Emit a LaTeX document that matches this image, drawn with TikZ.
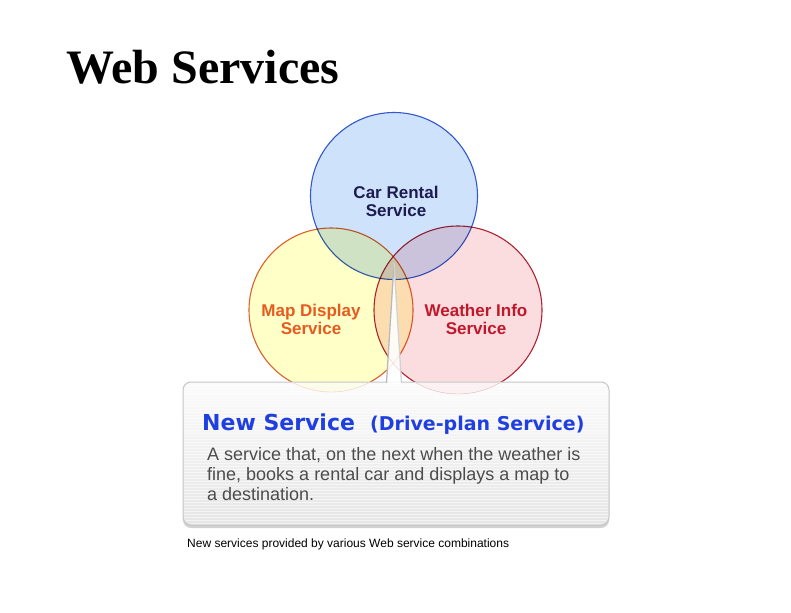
\documentclass[tikz,border=0pt]{standalone}
\usepackage{fontspec}
\setmainfont{Liberation Serif}
\newfontfamily\arialfont{Liberation Sans}
\newfontfamily\widefont{DejaVu Sans}
\usetikzlibrary{positioning,shadows}

\definecolor{carfill}{HTML}{CFE2FB}
\definecolor{carline}{HTML}{3A5FCD}
\definecolor{cartext}{HTML}{1C1C50}
\definecolor{mapfill}{HTML}{FFFFC8}
\definecolor{mapline}{HTML}{E06030}
\definecolor{maptext}{HTML}{E85A20}
\definecolor{wxfill}{HTML}{FBDDE0}
\definecolor{wxline}{HTML}{B02838}
\definecolor{wxtext}{HTML}{C0182A}
\definecolor{newblue}{HTML}{1F3FE0}

\begin{document}
\begin{tikzpicture}[x=1pt,y=-1pt,
    svc/.style={circle,draw,line width=1.1pt,minimum size=#1,inner sep=0pt},
    lbl/.style={font=\arialfont\bfseries\fontsize{17}{18}\selectfont,align=center},
    body/.style={font=\arialfont\fontsize{18}{20}\selectfont,text=black!70,align=left,anchor=north west,inner sep=0pt}
    ]
    \useasboundingbox[fill=white] (0,0) rectangle (791,612);

    \node[font=\bfseries\fontsize{48}{50}\selectfont,anchor=base west,inner sep=0pt] (title) at (66,84) {Web Services};

    % the three services
    \begin{scope}[blend mode=multiply]
      \node[svc=167pt,fill=carfill,draw=carline] (car) at (394,196) {};
      \node[svc=164pt,fill=mapfill,draw=mapline] (map) at (331,310) {};
      \node[svc=168pt,fill=wxfill,draw=wxline] (wx) at (458,310) {};
    \end{scope}

    \node[lbl,text=cartext] (carlbl) at (396,201) {Car Rental\\Service};
    \node[lbl,text=maptext] (maplbl) at (311,319) {Map Display\\Service};
    \node[lbl,text=wxtext] (wxlbl) at (476,319) {Weather Info\\Service};

    % callout box
    \node[rectangle,rounded corners=8pt,minimum width=426pt,minimum height=143pt,
      draw=gray!45,line width=1pt,top color=gray!3,bottom color=gray!20,
      drop shadow={shadow xshift=0pt,shadow yshift=-3pt,opacity=.35}] (newsrv) at (396,453.5) {};
    \begin{scope}
      \clip[rounded corners=8pt] (184,383) rectangle (608,524);
      \foreach \y in {385,388,...,524}
        \draw[white,opacity=.55,line width=.8pt] (184,\y) -- (608,\y);
      % circles seen faintly through the top of the box
      \begin{scope}[opacity=.3]
        \filldraw[fill=mapfill,draw=mapline] (map.center) circle (82);
        \filldraw[fill=wxfill,draw=wxline] (wx.center) circle (84);
      \end{scope}
    \end{scope}

    \coordinate (tip) at (394,263);
    \fill[white,opacity=.88] (386,384) -- (tip) -- (402,384) -- cycle;
    \draw[gray!55,line width=1.3pt] (386.5,383) -- (tip);
    \draw[gray!35,line width=1.3pt] (tip) -- (401.5,383);

    \node[anchor=base west,inner sep=0pt,text=newblue,font=\widefont\bfseries\fontsize{22}{24}\selectfont] (newhd) at (202,430) {New Service};
    \node[anchor=base west,inner sep=0pt,text=newblue,font=\widefont\bfseries\fontsize{19}{24}\selectfont] (drivehd) at (370,430) {(Drive-plan Service)};
    \node[body] (desc) at (207,447) {A service that, on the next when the weather is\\fine, books a rental car and displays a map to\\a destination.};

    \node[anchor=base west,inner sep=0pt,font=\arialfont\fontsize{12}{14}\selectfont] (caption) at (187,547) {New services provided by various Web service combinations};
  \end{tikzpicture}
\end{document}
